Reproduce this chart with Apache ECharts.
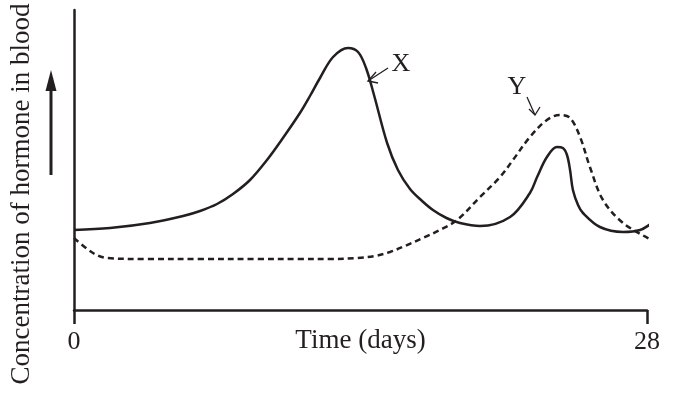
<!DOCTYPE html>
<html>
<head>
<meta charset="utf-8">
<script src="https://cdn.jsdelivr.net/npm/echarts@6/dist/echarts.min.js"></script>
<style>
  html, body { margin: 0; padding: 0; background: #fff; }
  #main { width: 675px; height: 403px; }
</style>
</head>
<body>
<div id="main"></div>
<script>
// hormone X (solid): [day, concentration]
const hormoneX = [
  [0, 80], [1.76, 82], [3.71, 87], [5.33, 94], [6.16, 99], [6.99, 106],
  [7.77, 116], [8.6, 130], [9.43, 150], [10.21, 172], [11.04, 197],
  [11.53, 214], [12.02, 232], [12.66, 253], [13.39, 262], [13.88, 258],
  [14.27, 242], [14.66, 215], [15.3, 167], [15.83, 140], [16.42, 121],
  [17.01, 109], [17.54, 100], [18.2, 92], [18.86, 87], [19.84, 84],
  [21.31, 93], [22.28, 117], [22.63, 133], [23.11, 153], [23.6, 163],
  [23.89, 162], [24.09, 155], [24.24, 140], [24.38, 120], [24.63, 105],
  [24.87, 97], [25.7, 83], [26.83, 78], [27.66, 80], [28.24, 87]
]
// hormone Y (dashed)
const hormoneY = [
  [0, 72], [0.93, 57], [1.61, 52], [3.5, 51], [6.16, 51], [9, 51],
  [11.04, 51], [12.51, 51], [13.83, 52], [14.71, 54], [15.44, 58],
  [16.17, 64], [17.05, 72], [17.88, 80], [18.72, 90], [19.84, 113],
  [20.82, 133], [21.45, 150], [22.28, 173], [23.11, 190], [23.75, 195],
  [24.24, 192], [24.73, 173], [25.21, 143], [25.85, 110], [26.83, 87],
  [28.24, 70]
]
const xTicks = [0, 28]

const ink = '#231f20'
const serif = 'Liberation Serif'

const chart = echarts.init(document.getElementById('main'))
const option = {
  animation: false,
  grid: { left: 74, right: 28, top: 10, bottom: 93 },
  xAxis: {
    type: 'value',
    min: xTicks[0],
    max: xTicks[1],
    interval: xTicks[1] - xTicks[0],
    name: 'Time (days)',
    nameLocation: 'middle',
    nameGap: 31,
    nameMoveOverlap: false,
    nameTextStyle: { color: ink, fontFamily: serif, fontSize: 27, verticalAlign: 'middle' },
    axisLine: { lineStyle: { color: ink, width: 2.5 } },
    axisTick: { show: true, length: 14, lineStyle: { color: ink, width: 2.5 } },
    axisLabel: { color: ink, fontFamily: serif, fontSize: 26, margin: 19 },
    splitLine: { show: false }
  },
  yAxis: {
    type: 'value',
    min: 0,
    max: 300,
    axisLine: { show: true, lineStyle: { color: ink, width: 2.5 } },
    axisTick: { show: false },
    axisLabel: { show: false },
    splitLine: { show: false }
  },
  series: [
    {
      name: 'X',
      type: 'line',
      data: hormoneX,
      smooth: 0.35,
      symbol: 'none',
      clip: false,
      lineStyle: { color: ink, width: 2.5 }
    },
    {
      name: 'Y',
      type: 'line',
      data: hormoneY,
      smooth: 0.35,
      symbol: 'none',
      clip: false,
      lineStyle: { color: ink, width: 2.5, type: [6, 4] }
    }
  ],
  graphic: [
    // y axis title
    {
      type: 'text',
      x: 22, y: 194,
      rotation: Math.PI / 2,
      style: {
        text: 'Concentration of hormone in blood',
        font: '27px "Liberation Serif"',
        fill: ink,
        align: 'center',
        verticalAlign: 'middle'
      }
    },
    // upward arrow beside the y axis
    { type: 'line', shape: { x1: 51, y1: 175, x2: 51, y2: 86 }, style: { stroke: ink, lineWidth: 3 } },
    { type: 'polygon', shape: { points: [[51, 70], [45.5, 91], [56.5, 91]] }, style: { fill: ink } },
    // X label and pointer
    {
      type: 'text', x: 401, y: 64,
      style: { text: 'X', font: '26px "Liberation Serif"', fill: ink, align: 'center', verticalAlign: 'middle' }
    },
    { type: 'line', shape: { x1: 388, y1: 68, x2: 368, y2: 81 }, style: { stroke: ink, lineWidth: 1.3 } },
    { type: 'polyline', shape: { points: [[376, 72], [368, 81], [378, 83]] }, style: { stroke: ink, lineWidth: 1.3, fill: null } },
    // Y label and pointer
    {
      type: 'text', x: 517, y: 87,
      style: { text: 'Y', font: '26px "Liberation Serif"', fill: ink, align: 'center', verticalAlign: 'middle' }
    },
    { type: 'line', shape: { x1: 527, y1: 97, x2: 535, y2: 115 }, style: { stroke: ink, lineWidth: 1.3 } },
    { type: 'polyline', shape: { points: [[529, 109], [535, 115], [540, 107]] }, style: { stroke: ink, lineWidth: 1.3, fill: null } }
  ]
}
chart.setOption(option)
</script>
</body>
</html>
